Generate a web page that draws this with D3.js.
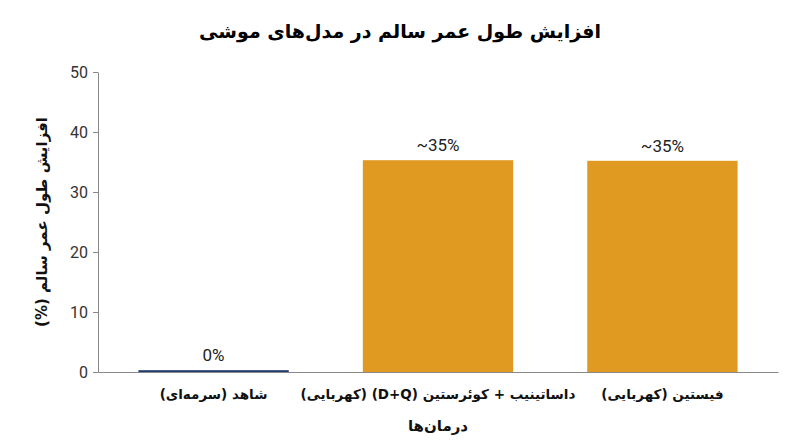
<!DOCTYPE html>
<html>
<head>
<meta charset="utf-8">
<script src="https://cdn.jsdelivr.net/npm/d3@7"></script>
<style>
  body { margin: 0; background: #fff; }
  .fa { font-family: "DejaVu Sans", "Noto Sans", sans-serif; font-weight: bold; }
  .num { font-family: Roboto, "Liberation Sans", sans-serif; }
</style>
</head>
<body>
<svg id="chart" width="800" height="447"></svg>
<script>
// data, left to right as drawn
var categories = ["شاهد (سرمه‌ای)", "داساتینیب + کوئرستین (D+Q) (کهربایی)", "فیستین (کهربایی)"];
var values = [0.3, 35.3, 35.2];
var valueLabels = ["0%", "~35%", "~35%"];
var barColors = ["#1f3a6e", "#e09a22", "#e09a22"];
var yTicks = [0, 10, 20, 30, 40, 50];

var svg = d3.select("#chart");
var margin = {top: 72, right: 22, bottom: 75, left: 98},
    width = 800 - margin.left - margin.right,
    height = 447 - margin.top - margin.bottom;

var g = svg.append("g")
  .attr("transform", "translate(" + margin.left + "," + margin.top + ")");

var x = d3.scaleBand()
  .domain(categories)
  .range([0, width])
  .paddingInner(0.33)
  .paddingOuter(0.18);

var y = d3.scaleLinear().domain([0, 50]).range([height, 0]);

// y axis
var yAxis = g.append("g")
  .call(d3.axisLeft(y).tickValues(yTicks).tickSize(5).tickSizeOuter(0));
yAxis.select(".domain").attr("stroke", "#888");
yAxis.selectAll(".tick line").attr("stroke", "#888");
yAxis.selectAll(".tick text")
  .attr("class", "num")
  .attr("font-size", 16)
  .attr("fill", "#333")
  .attr("x", -10);

// bars
g.selectAll(".bar")
  .data(values)
  .enter().append("rect")
    .attr("class", "bar")
    .attr("x", function(d, i) { return x(categories[i]); })
    .attr("y", function(d) { return y(d); })
    .attr("width", x.bandwidth())
    .attr("height", function(d) { return height - y(d); })
    .attr("fill", function(d, i) { return barColors[i]; });

// value labels
g.selectAll(".vlabel")
  .data(values)
  .enter().append("text")
    .attr("class", "num")
    .attr("x", function(d, i) { return x(categories[i]) + x.bandwidth() / 2; })
    .attr("y", function(d) { return y(d) - 9; })
    .attr("text-anchor", "middle")
    .attr("direction", "ltr")
    .attr("font-size", 17)
    .attr("fill", "#222")
    .text(function(d, i) { return valueLabels[i]; });

// x axis
var xAxis = g.append("g")
  .attr("transform", "translate(0," + height + ")")
  .call(d3.axisBottom(x).tickSize(0).tickSizeOuter(0));
xAxis.select(".domain").attr("stroke", "#888");
xAxis.selectAll(".tick text")
  .attr("class", "fa")
  .attr("font-size", 13.5)
  .attr("fill", "#111")
  .attr("y", 17)
  .attr("direction", "rtl");

// axis titles
svg.append("text")
  .attr("class", "fa")
  .attr("x", 438)
  .attr("y", 431)
  .attr("text-anchor", "middle")
  .attr("font-size", 15)
  .attr("fill", "#111")
  .attr("direction", "rtl")
  .text("درمان‌ها");

svg.append("text")
  .attr("class", "fa")
  .attr("transform", "translate(42,222) rotate(-90)")
  .attr("text-anchor", "middle")
  .attr("dominant-baseline", "middle")
  .attr("font-size", 15)
  .attr("fill", "#111")
  .attr("direction", "rtl")
  .text("افزایش طول عمر سالم (%)");

// title
svg.append("text")
  .attr("class", "fa")
  .attr("x", 400)
  .attr("y", 38)
  .attr("text-anchor", "middle")
  .attr("font-size", 19)
  .attr("fill", "#000")
  .attr("direction", "rtl")
  .text("افزایش طول عمر سالم در مدل‌های موشی");
</script>
</body>
</html>
